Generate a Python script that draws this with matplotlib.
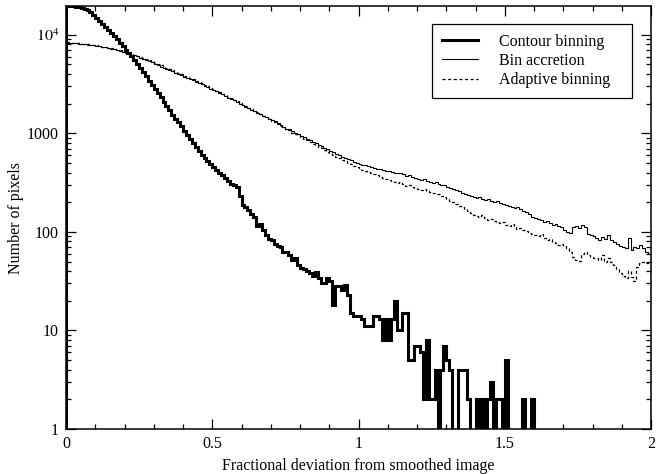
import matplotlib
matplotlib.use("Agg")
import matplotlib.pyplot as plt
import numpy as np
from matplotlib.ticker import FixedLocator, FixedFormatter, MultipleLocator, NullFormatter

plt.rcParams["font.family"] = ["Liberation Serif", "DejaVu Serif"]
plt.rcParams["mathtext.fontset"] = "stix"

# histogram bins: 200 bins of width 0.01 over [0, 2]
BIN_LO, BIN_HI, N_BINS = 0.0, 2.0, 200

# pixel counts per bin
contour_binning = [
    19700, 19600, 19500, 19300, 19000, 18700, 18300, 17900, 17000, 15850,
    14800, 13800, 12900, 12000, 11200, 10500, 9770, 9020, 8320, 7670,
    7080, 6530, 6030, 5500, 5010, 4570, 4170, 3800, 3430, 3090,
    2820, 2570, 2320, 2090, 1910, 1720, 1550, 1410, 1290, 1175,
    1060, 966, 881, 794, 724, 661, 603, 562, 525, 490,
    457, 427, 398, 376, 355, 331, 309, 302, 288, 229,
    186, 178, 166, 151, 141, 115, 120, 105, 93, 85,
    83, 76, 72, 71, 63, 62, 58, 52, 55, 46,
    43, 42, 40, 38, 36, 39, 34, 30, 30, 34,
    32, 18, 28, 28, 26, 29, 23, 15, 14, 14,
    14, 13, 11, 11, 11, 14, 14, 13, 8, 13,
    8, 13, 20, 10, 10, 15, 15, 5, 5, 7,
    7, 6, 2, 8, 2, 2, 4, 0, 4, 7,
    5, 4, 0, 0, 4, 4, 4, 2, 0, 0,
    2, 0, 2, 0, 2, 3, 0, 2, 2, 0,
    5, 0, 0, 0, 0, 0, 2, 0, 0, 2,
    0, 0, 0, 0, 0, 0, 0, 0, 0, 0,
    0, 0, 0, 0, 0, 0, 0, 0, 0, 0,
    0, 0, 0, 0, 0, 0, 0, 0, 0, 0,
    0, 0, 0, 0, 0, 0, 0, 0, 0, 0,
]

bin_accretion = [
    8320, 8320, 8220, 8220, 8130, 8130, 8040, 7940, 7940, 7850,
    7760, 7670, 7590, 7500, 7410, 7240, 7160, 7080, 6920, 6760,
    6610, 6460, 6310, 6170, 6030, 5820, 5690, 5500, 5370, 5250,
    5070, 4900, 4730, 4620, 4520, 4370, 4270, 4120, 3980, 3890,
    3760, 3670, 3550, 3470, 3350, 3240, 3160, 3050, 2950, 2850,
    2750, 2660, 2570, 2480, 2400, 2290, 2240, 2160, 2090, 2000,
    1930, 1860, 1800, 1740, 1680, 1620, 1570, 1510, 1460, 1410,
    1360, 1320, 1260, 1220, 1170, 1120, 1100, 1050, 1010, 980,
    944, 912, 881, 851, 813, 794, 767, 741, 716, 692,
    668, 646, 617, 603, 582, 562, 550, 531, 513, 501,
    490, 479, 473, 462, 457, 447, 437, 432, 422, 417,
    412, 407, 398, 394, 398, 385, 372, 376, 363, 355,
    347, 339, 343, 331, 324, 316, 320, 309, 299, 302,
    288, 282, 275, 269, 263, 251, 245, 237, 229, 226,
    219, 224, 214, 209, 214, 204, 200, 204, 195, 191,
    186, 182, 178, 174, 178, 170, 162, 158, 151, 141,
    138, 135, 132, 126, 129, 123, 117, 120, 115, 112,
    105, 100, 98, 112, 115, 110, 117, 112, 95, 93,
    91, 87, 83, 89, 85, 93, 83, 79, 76, 72,
    71, 69, 87, 66, 71, 68, 74, 69, 63, 60,
]

adaptive_binning = [
    8410, 8320, 8320, 8220, 8220, 8130, 8040, 8040, 7940, 7850,
    7850, 7760, 7590, 7590, 7410, 7330, 7160, 7080, 7000, 6840,
    6680, 6530, 6380, 6240, 6100, 5960, 5820, 5620, 5500, 5370,
    5190, 5010, 4900, 4730, 4620, 4470, 4370, 4220, 4070, 3980,
    3850, 3760, 3630, 3550, 3430, 3310, 3240, 3130, 3020, 2920,
    2820, 2720, 2630, 2510, 2430, 2340, 2260, 2190, 2110, 2020,
    1950, 1880, 1820, 1760, 1700, 1640, 1570, 1510, 1460, 1410,
    1350, 1300, 1240, 1200, 1150, 1110, 1070, 1020, 989, 955,
    912, 881, 851, 813, 785, 759, 724, 708, 676, 653,
    631, 610, 582, 562, 543, 525, 501, 490, 468, 452,
    442, 427, 417, 407, 394, 385, 376, 363, 355, 347,
    339, 331, 324, 316, 320, 309, 295, 299, 288, 282,
    275, 269, 275, 263, 257, 251, 245, 240, 234, 224,
    214, 204, 200, 191, 182, 178, 170, 162, 155, 148,
    145, 141, 148, 138, 132, 135, 129, 126, 123, 126,
    117, 115, 120, 112, 107, 110, 105, 102, 98, 95,
    93, 91, 95, 87, 83, 85, 79, 78, 74, 76,
    72, 68, 63, 56, 52, 51, 60, 63, 58, 56,
    55, 54, 52, 58, 50, 54, 49, 46, 42, 38,
    36, 34, 40, 35, 32, 44, 48, 50, 48, 50,
]

x_ticks = [0, 0.5, 1, 1.5, 2]
x_ticklabels = ["0", "0.5", "1", "1.5", "2"]
y_ticks = [1, 10, 100, 1000, 10000]
y_ticklabels = ["1", "10", "100", "1000", r"$10^4$"]

fig = plt.figure(figsize=(6.59, 4.74), dpi=100)
ax = fig.add_axes([0.1002, 0.0949, 0.8877, 0.8924])

edges = np.linspace(BIN_LO, BIN_HI, N_BINS + 1)
ax.stairs(contour_binning, edges, color="black", lw=2.2, label="Contour binning")
ax.stairs(bin_accretion, edges, color="black", lw=0.8, label="Bin accretion")
ax.stairs(adaptive_binning, edges, color="black", lw=0.9, ls=(0, (2.5, 2)),
          label="Adaptive binning")

ax.set_yscale("log", nonpositive="clip")
ax.set_xlim(0, 2)
ax.set_ylim(1, 19600)

ax.xaxis.set_major_locator(FixedLocator(x_ticks))
ax.xaxis.set_major_formatter(FixedFormatter(x_ticklabels))
ax.xaxis.set_minor_locator(MultipleLocator(0.1))
ax.yaxis.set_major_locator(FixedLocator(y_ticks))
ax.yaxis.set_major_formatter(FixedFormatter(y_ticklabels))
ax.yaxis.set_minor_locator(matplotlib.ticker.LogLocator(base=10, subs=np.arange(2, 10)))
ax.yaxis.set_minor_formatter(NullFormatter())

ax.tick_params(which="both", direction="in", top=True, right=True,
               labelsize=11.5, width=0.9, pad=5)
ax.tick_params(which="major", length=7)
ax.tick_params(which="minor", length=3.5)
for s in ax.spines.values():
    s.set_linewidth(1.1)

ax.set_xlabel("Fractional deviation from smoothed image", fontsize=11.5, labelpad=4)
ax.set_ylabel("Number of pixels", fontsize=11.5, labelpad=2)

leg = ax.legend(loc="upper right", bbox_to_anchor=(0.967, 0.957), fontsize=11.5,
                frameon=True, fancybox=False, edgecolor="black", framealpha=1,
                handlelength=2.3, handletextpad=1.3, borderpad=0.6,
                borderaxespad=0, labelspacing=0.2)
leg.get_frame().set_linewidth(0.9)
# keep some room right of the labels inside the frame
for t in leg.get_texts():
    t.set_text(t.get_text() + "   ")

fig.savefig("out.png", dpi=100)
